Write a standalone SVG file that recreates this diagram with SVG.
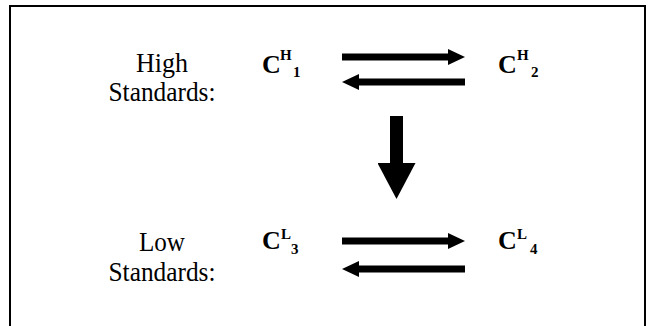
<svg xmlns="http://www.w3.org/2000/svg" width="649" height="326" viewBox="0 0 649 326">
<defs>
<style>
.lbl{font-family:"Liberation Serif","Times New Roman",serif;font-size:27px;fill:#000;text-anchor:middle}
.c{font-family:"Liberation Serif","Times New Roman",serif;font-weight:bold;font-size:26px;fill:#000}
.s{font-family:"Liberation Serif","Times New Roman",serif;font-weight:bold;font-size:15px;fill:#000}
.sh{stroke:#000;stroke-width:7;fill:none}
</style>
<marker id="ah" markerUnits="userSpaceOnUse" markerWidth="17" markerHeight="16" refX="0" refY="8" orient="auto" viewBox="0 0 17 16">
<path d="M0,0 L17,8 L0,16 Z" fill="#000"/>
</marker>
<marker id="ahbig" markerUnits="userSpaceOnUse" markerWidth="36" markerHeight="38" refX="0" refY="19" orient="auto" viewBox="0 0 36 38">
<path d="M0,0 L36,19 L0,38 Z" fill="#000"/>
</marker>
</defs>
<rect width="649" height="326" fill="#fff"/>
<path d="M10,326 V6 H645 V326" fill="none" stroke="#000" stroke-width="2"/>
<g id="label-high">
<text class="lbl" x="162" y="72" textLength="52" lengthAdjust="spacingAndGlyphs">High</text>
<text class="lbl" x="162" y="101" textLength="107" lengthAdjust="spacingAndGlyphs">Standards:</text>
</g>
<g id="label-low">
<text class="lbl" x="162" y="251" textLength="46" lengthAdjust="spacingAndGlyphs">Low</text>
<text class="lbl" x="162" y="281" textLength="107" lengthAdjust="spacingAndGlyphs">Standards:</text>
</g>
<g id="node-CH1">
<text class="c" x="262" y="73">C</text>
<text class="s" x="280" y="60">H</text>
<text class="s" x="293" y="77">1</text>
</g>
<g id="node-CH2">
<text class="c" x="498" y="73">C</text>
<text class="s" x="517" y="60">H</text>
<text class="s" x="531" y="77">2</text>
</g>
<g id="node-CL3">
<text class="c" x="262" y="249">C</text>
<text class="s" x="281" y="239">L</text>
<text class="s" x="291" y="254">3</text>
</g>
<g id="node-CL4">
<text class="c" x="498" y="249">C</text>
<text class="s" x="517" y="239">L</text>
<text class="s" x="530" y="254">4</text>
</g>
<g id="connectors">
<line class="sh" x1="342" y1="57" x2="448" y2="57" marker-end="url(#ah)"/>
<line class="sh" x1="465" y1="82" x2="359" y2="82" marker-end="url(#ah)"/>
<line class="sh" x1="342" y1="241" x2="448" y2="241" marker-end="url(#ah)"/>
<line class="sh" x1="465" y1="269" x2="359" y2="269" marker-end="url(#ah)"/>
<line x1="396.5" y1="116" x2="396.5" y2="163" stroke="#000" stroke-width="13" marker-end="url(#ahbig)"/>
</g>
</svg>
